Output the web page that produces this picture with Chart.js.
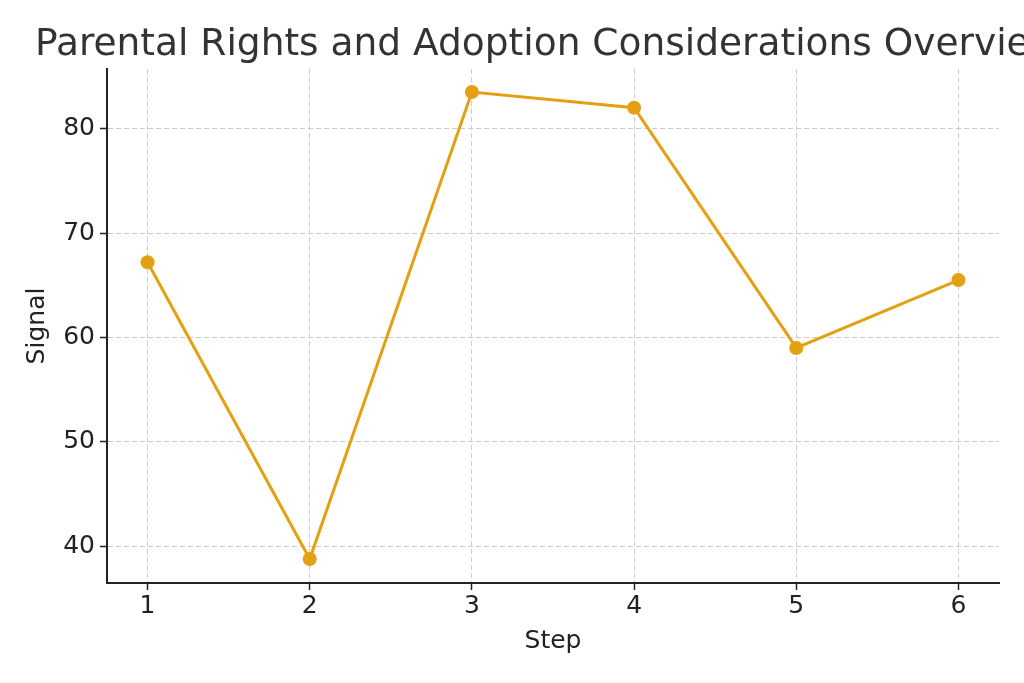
<!DOCTYPE html>
<html>
<head>
<meta charset="utf-8">
<script src="https://cdn.jsdelivr.net/npm/chart.js@4/dist/chart.umd.min.js"></script>
<style>
  html, body { margin: 0; padding: 0; background: #ffffff; }
  #wrap { width: 1024px; height: 683px; }
</style>
</head>
<body>
<div id="wrap"><canvas id="chart" width="1024" height="683"></canvas></div>
<script>
// データ
const chartTitle = 'Parental Rights and Adoption Considerations Overview';
const steps = [1, 2, 3, 4, 5, 6];
const signal = [67.2, 38.8, 83.5, 82.0, 59.0, 65.5];
const xLabel = 'Step';
const yLabel = 'Signal';

const lineColor = '#e3a012';
const fontFamily = '"DejaVu Sans", sans-serif';

// タイトル（左端から描画、右側ははみ出して切れる）
const titlePlugin = {
    id: 'leftTitle',
    afterDraw(chart) {
        const ctx = chart.ctx;
        ctx.save();
        ctx.font = '37.5px ' + fontFamily;
        ctx.fillStyle = '#333333';
        ctx.textBaseline = 'alphabetic';
        ctx.textAlign = 'left';
        ctx.fillText(chartTitle, 35, 55);
        ctx.restore();
    }
};

const bgPlugin = {
    id: 'bg',
    beforeDraw(chart) {
        const ctx = chart.ctx;
        ctx.save();
        ctx.fillStyle = '#ffffff';
        ctx.fillRect(0, 0, chart.width, chart.height);
        ctx.restore();
    }
};

const ctx = document.getElementById('chart').getContext('2d');
new Chart(ctx, {
    type: 'line',
    data: {
        datasets: [{
            label: yLabel,
            data: steps.map((s, i) => ({ x: s, y: signal[i] })),
            borderColor: lineColor,
            backgroundColor: lineColor,
            borderWidth: 3,
            pointRadius: 7,
            pointHoverRadius: 7,
            pointBorderWidth: 0,
            fill: false,
            tension: 0
        }]
    },
    options: {
        responsive: false,
        animation: false,
        devicePixelRatio: 1,
        layout: { padding: { top: 69, right: 25, left: 0, bottom: 0 } },
        plugins: {
            legend: { display: false },
            title: { display: false },
            tooltip: { enabled: false }
        },
        scales: {
            x: {
                type: 'linear',
                min: 0.75,
                max: 6.25,
                afterFit(scale) { scale.height = 100; },
                ticks: {
                    stepSize: 1,
                    includeBounds: false,
                    color: '#222222',
                    padding: 1,
                    font: { family: fontFamily, size: 25 }
                },
                grid: {
                    color: '#cccccc',
                    lineWidth: 1,
                    tickLength: 7,
                    tickColor: '#222222',
                    tickWidth: 1.5,
                    tickBorderDash: []
                },
                border: { display: true, color: '#222222', width: 2, dash: [5, 3] },
                title: {
                    display: true,
                    text: xLabel,
                    color: '#222222',
                    font: { family: fontFamily, size: 25, lineHeight: 1 },
                    padding: { top: 0, bottom: 29 }
                }
            },
            y: {
                type: 'linear',
                min: 36.5,
                max: 85.7,
                afterFit(scale) { scale.width = 107; },
                ticks: {
                    stepSize: 10,
                    includeBounds: false,
                    color: '#222222',
                    padding: 5,
                    font: { family: fontFamily, size: 25 }
                },
                grid: {
                    color: '#cccccc',
                    lineWidth: 1,
                    tickLength: 7,
                    tickColor: '#222222',
                    tickWidth: 1.5,
                    tickBorderDash: []
                },
                border: { display: true, color: '#222222', width: 2, dash: [5, 3] },
                title: {
                    display: true,
                    text: yLabel,
                    color: '#222222',
                    font: { family: fontFamily, size: 25, lineHeight: 1 },
                    padding: { top: 25, bottom: 0 }
                }
            }
        }
    },
    plugins: [bgPlugin, titlePlugin]
});
</script>
</body>
</html>
